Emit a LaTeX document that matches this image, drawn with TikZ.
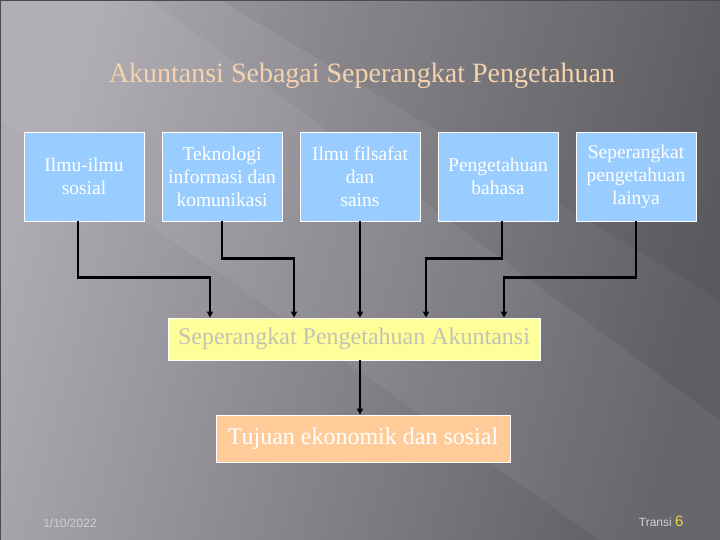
\documentclass[tikz,border=0pt]{standalone}
\usepackage{fontspec}
\setmainfont{Liberation Serif}
\newfontfamily\footfont{Liberation Sans}
\usetikzlibrary{arrows.meta}
\definecolor{bgL}{HTML}{ADABB1}
\definecolor{bgR}{HTML}{5E5D62}
\definecolor{boxblue}{HTML}{99CCFF}
\definecolor{boxyellow}{HTML}{FFFF99}
\definecolor{boxorange}{HTML}{FFCC99}
\definecolor{titlecol}{HTML}{F6D2AE}
\definecolor{sptext}{HTML}{C4C2B4}
\definecolor{foottext}{HTML}{D0D0D0}
\definecolor{numcol}{HTML}{E8D44A}
\tikzset{
  srcbox/.style={draw=white, line width=0.8pt, fill=boxblue, text=white,
    minimum width=120pt, minimum height=89pt, inner sep=0pt, align=center,
    font=\fontsize{19.5}{23}\selectfont},
  midbox/.style={draw=white, line width=0.8pt, fill=boxyellow, text=sptext,
    minimum width=372pt, minimum height=42pt, inner sep=0pt,
    font=\fontsize{24}{28}\selectfont},
  goalbox/.style={draw=white, line width=0.8pt, fill=boxorange, text=white,
    minimum width=294pt, minimum height=47pt, inner sep=0pt,
    font=\fontsize{24}{28}\selectfont},
  conn/.style={draw=black, line width=2.4pt, -{Triangle[length=6pt,width=6pt]}},
}
\begin{document}
\begin{tikzpicture}[x=1pt,y=-1pt]
\useasboundingbox (0,0) rectangle (720,540);
\shade[left color=bgL, right color=bgR, shading angle=75] (0,0) rectangle (720,540);
\fill[white, opacity=0.06] (0,0) -- (150,0) -- (720,420) -- (720,540) -- (600,540) -- (0,120) -- cycle;
\fill[black, opacity=0.05] (220,0) -- (720,0) -- (720,300) -- cycle;
\draw[color=black!70, line width=1.5pt] (0.7,540) -- (0.7,0.7) -- (720,0.7);

\node[text=titlecol, font=\fontsize{28}{30}\selectfont] (title) at (362,76) {Akuntansi Sebagai Seperangkat Pengetahuan};

\node[srcbox] (b1) at (84,176.5) {Ilmu-ilmu\\sosial};
\node[srcbox] (b2) at (222,176.5) {Teknologi\\informasi dan\\komunikasi};
\node[srcbox] (b3) at (360,176.5) {Ilmu filsafat\\dan\\sains};
\node[srcbox] (b4) at (498,176.5) {Pengetahuan\\bahasa};
\node[srcbox] (b5) at (636,176.5) {Seperangkat\\pengetahuan\\lainya};

\node[midbox] (sp) at (354,339) {Seperangkat Pengetahuan Akuntansi};
\node[goalbox] (goal) at (363,438.5) {Tujuan ekonomik dan sosial};

\draw[conn] ([xshift=-6pt]b1.south) -- ++(0,56) -| ([xshift=-144pt]sp.north);
\draw[conn] (b2.south) -- ++(0,37) -| ([xshift=-60pt]sp.north);
\draw[conn] (b3.south) -- ([xshift=6pt]sp.north);
\draw[conn] ([xshift=4pt]b4.south) -- ++(0,37) -| ([xshift=72pt]sp.north);
\draw[conn] (b5.south) -- ++(0,56) -| ([xshift=150pt]sp.north);
\draw[conn] ([xshift=6pt]sp.south) -- ([xshift=6pt]sp.south |- goal.north);

\node[text=foottext, font=\footfont\fontsize{12}{14}\selectfont] (date) at (70,523) {1/10/2022};
\node[anchor=base east, text=foottext, font=\footfont\fontsize{12}{14}\selectfont, inner sep=0pt] (tr) at (672,526) {Transi};
\node[anchor=base west, text=numcol, font=\footfont\fontsize{15}{17}\selectfont, inner sep=0pt] (num) at (675,526) {6};
\end{tikzpicture}
\end{document}
